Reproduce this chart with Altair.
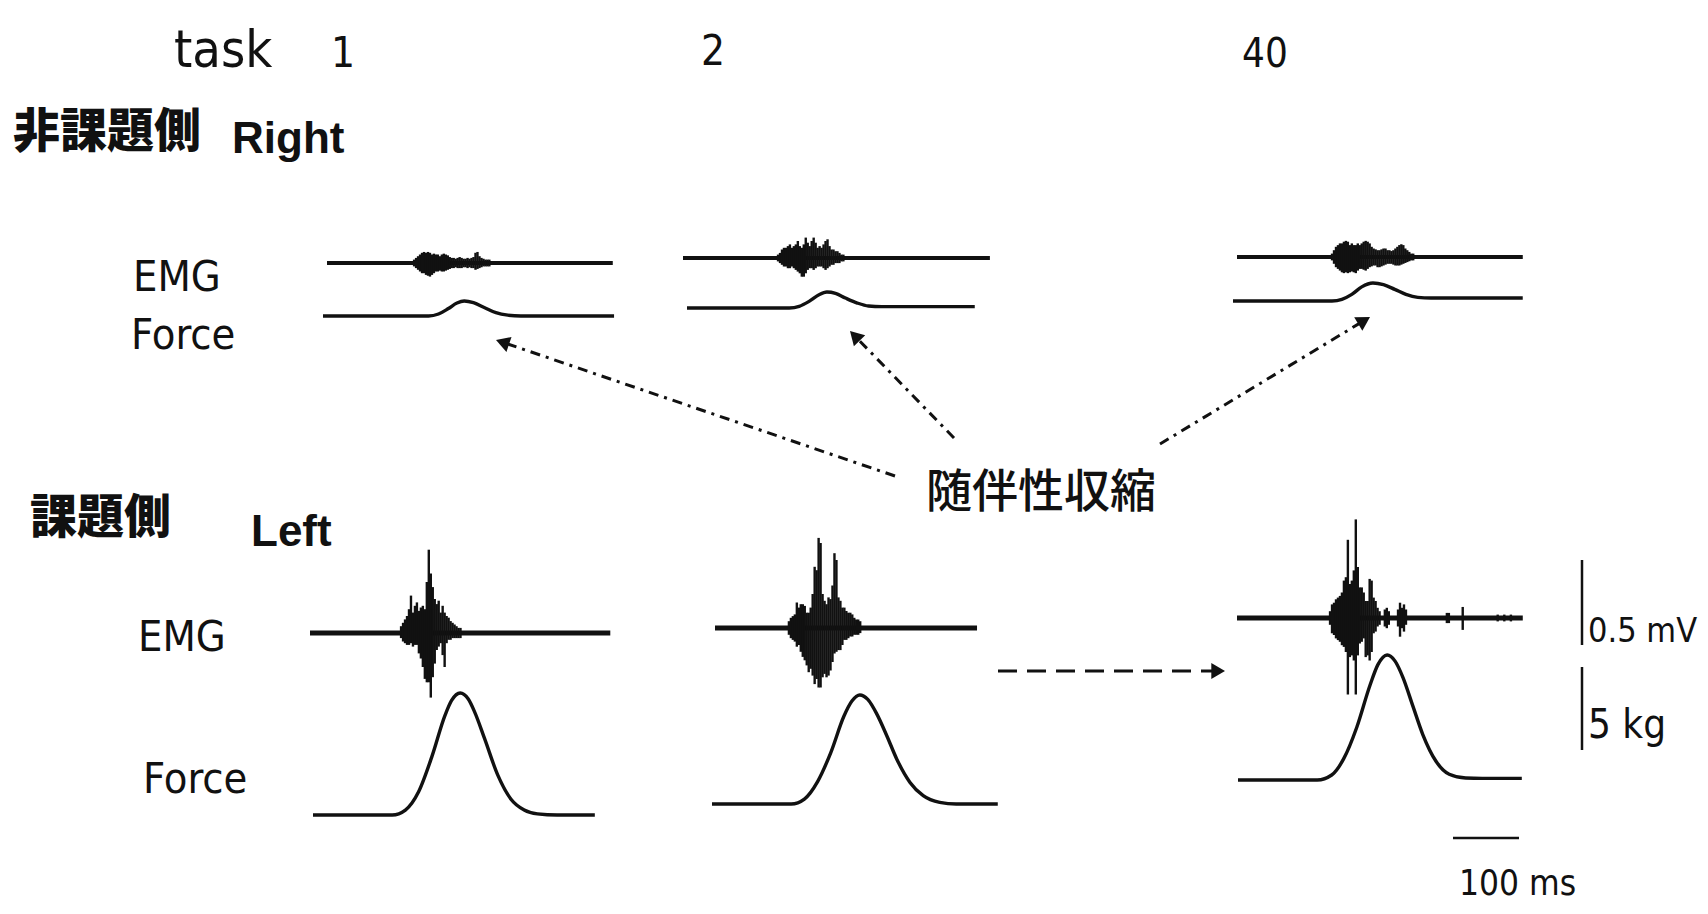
import math
import altair as alt
import pandas as pd

# ============ values ============
task_labels = ["1", "2", "40"]
side_labels_jp = ["非課題側", "課題側"]
side_labels_en = ["Right", "Left"]
signal_labels = ["EMG", "Force"]
annotation_label = "随伴性収縮"
scale_labels = ["0.5 mV", "5 kg", "100 ms"]
scale_values = [0.5, 5.0, 100.0]  # mV, kg, ms
header_label = "task"

# ---- Force traces (time in ms from trace start, force in kg) ----
force_R1_t = [0, 160, 175, 190, 203, 214, 228, 245, 262, 280, 300, 441]
force_R1_kg = [0, 0, 0.12, 0.45, 0.78, 0.9, 0.8, 0.5, 0.2, 0.05, 0, 0]
force_R2_t = [0, 155, 170, 185, 200, 212, 225, 240, 258, 275, 295, 436]
force_R2_kg = [0, 0, 0.1, 0.4, 0.8, 0.96, 0.88, 0.6, 0.3, 0.12, 0.08, 0.08]
force_R40_t = [0, 150, 165, 180, 195, 212, 228, 245, 262, 280, 300, 439]
force_R40_kg = [0, 0, 0.1, 0.4, 0.85, 1.08, 0.98, 0.7, 0.4, 0.22, 0.18, 0.18]
force_L1_t = [0, 120, 140, 160, 180, 200, 210, 223, 235, 245, 260, 280, 300, 320, 340, 370, 427]
force_L1_kg = [0, 0, 0.3, 1.4, 3.5, 6.0, 6.9, 7.35, 7.0, 6.2, 4.6, 2.4, 0.95, 0.3, 0.07, 0, 0]
force_L2_t = [0, 120, 140, 160, 180, 200, 212, 224, 236, 250, 265, 280, 300, 320, 345, 370, 433]
force_L2_kg = [0, 0, 0.3, 1.35, 3.1, 5.3, 6.2, 6.57, 6.3, 5.4, 4.1, 2.7, 1.3, 0.5, 0.1, 0, 0]
force_L40_t = [0, 120, 142, 160, 180, 200, 212, 226, 238, 250, 265, 280, 300, 320, 345, 370, 430]
force_L40_kg = [0, 0, 0.3, 1.27, 3.18, 5.71, 6.95, 7.53, 7.16, 6.17, 4.45, 2.74, 1.13, 0.35, 0.12, 0.1, 0.1]

# ---- EMG traces: record length (ms) and burst envelope (ms, +mV, -mV) ----
emg_duration = {"R1": 433, "R2": 465, "R40": 433, "L1": 455, "L2": 397, "L40": 433}

emg_R1_t = [132, 135, 138, 141, 144, 147, 150, 153, 156, 159, 162, 165, 168, 171, 174, 177, 180, 183, 186,
            189, 192, 195, 198, 201, 204, 207, 210, 213, 216, 219, 222, 225, 228, 231, 234, 237, 240, 243, 246]
emg_R1_hi = [0.02, 0.03, 0.04, 0.05, 0.06, 0.065, 0.06, 0.065, 0.06, 0.05, 0.055, 0.05, 0.05, 0.04, 0.05,
             0.055, 0.05, 0.045, 0.035, 0.03, 0.03, 0.025, 0.03, 0.035, 0.03, 0.025, 0.025, 0.03, 0.025, 0.03,
             0.035, 0.06, 0.065, 0.04, 0.03, 0.025, 0.02, 0.02, 0.02]
emg_R1_lo = [-0.02, -0.03, -0.04, -0.05, -0.06, -0.06, -0.07, -0.075, -0.08, -0.07, -0.06, -0.05, -0.05,
             -0.045, -0.05, -0.05, -0.045, -0.04, -0.035, -0.03, -0.03, -0.025, -0.03, -0.03, -0.03, -0.025,
             -0.025, -0.03, -0.025, -0.03, -0.03, -0.04, -0.035, -0.03, -0.025, -0.02, -0.02, -0.02, -0.02]

emg_R2_t = [144, 147, 150, 153, 156, 159, 162, 165, 168, 171, 174, 177, 180, 183, 186, 189, 192, 195, 198,
            201, 204, 207, 210, 213, 216, 219, 222, 225, 228, 231, 234, 237, 240, 243]
emg_R2_hi = [0.02, 0.03, 0.05, 0.06, 0.06, 0.07, 0.08, 0.06, 0.07, 0.08, 0.10, 0.07, 0.06, 0.08, 0.12,
             0.09, 0.07, 0.10, 0.12, 0.09, 0.06, 0.07, 0.06, 0.08, 0.10, 0.11, 0.07, 0.05, 0.05, 0.04,
             0.04, 0.03, 0.02, 0.02]
emg_R2_lo = [-0.02, -0.03, -0.04, -0.05, -0.05, -0.06, -0.06, -0.05, -0.06, -0.07, -0.08, -0.09, -0.11,
             -0.11, -0.09, -0.07, -0.06, -0.06, -0.07, -0.06, -0.05, -0.05, -0.05, -0.06, -0.07, -0.06,
             -0.05, -0.04, -0.04, -0.03, -0.03, -0.03, -0.02, -0.02]

emg_R40_t = [144, 147, 150, 153, 156, 159, 162, 165, 168, 171, 174, 177, 180, 183, 186, 189, 192, 195, 198,
             201, 204, 207, 210, 213, 216, 219, 222, 225, 228, 231, 234, 237, 240, 243, 246, 249, 252, 255,
             258, 261, 264, 267]
emg_R40_hi = [0.02, 0.04, 0.06, 0.07, 0.08, 0.08, 0.09, 0.095, 0.09, 0.07, 0.08, 0.07, 0.07, 0.08, 0.07,
              0.08, 0.09, 0.095, 0.09, 0.08, 0.06, 0.05, 0.045, 0.04, 0.04, 0.045, 0.05, 0.05, 0.04, 0.04,
              0.035, 0.04, 0.05, 0.06, 0.07, 0.075, 0.07, 0.05, 0.04, 0.03, 0.02, 0.02]
emg_R40_lo = [-0.02, -0.04, -0.06, -0.07, -0.08, -0.09, -0.095, -0.09, -0.095, -0.09, -0.085, -0.09, -0.095,
              -0.08, -0.07, -0.07, -0.075, -0.08, -0.07, -0.06, -0.055, -0.05, -0.05, -0.06, -0.06, -0.055,
              -0.05, -0.045, -0.04, -0.04, -0.04, -0.045, -0.05, -0.05, -0.05, -0.045, -0.04, -0.035, -0.03,
              -0.025, -0.02, -0.02]

emg_L1_t = [138, 141, 144, 147, 150, 153, 156, 159, 162, 165, 168, 171, 174, 177, 180, 183, 186, 189, 192,
            195, 198, 201, 204, 207, 210, 213, 216, 219, 222, 225, 228]
emg_L1_hi = [0.04, 0.06, 0.08, 0.10, 0.14, 0.22, 0.12, 0.16, 0.18, 0.13, 0.15, 0.16, 0.14, 0.30, 0.49,
             0.35, 0.27, 0.20, 0.17, 0.19, 0.12, 0.16, 0.12, 0.10, 0.09, 0.07, 0.06, 0.05, 0.04, 0.03, 0.03]
emg_L1_lo = [-0.03, -0.05, -0.06, -0.07, -0.07, -0.06, -0.08, -0.07, -0.07, -0.12, -0.15, -0.20, -0.27,
             -0.29, -0.29, -0.38, -0.26, -0.18, -0.10, -0.08, -0.06, -0.13, -0.20, -0.06, -0.04, -0.04,
             -0.03, -0.03, -0.03, -0.03, -0.03]

emg_L2_t = [112, 115, 118, 121, 124, 127, 130, 133, 136, 139, 142, 145, 148, 151, 154, 157, 160, 163, 166,
            169, 172, 175, 178, 181, 184, 187, 190, 193, 196, 199, 202, 205, 208, 211, 214, 217, 220]
emg_L2_hi = [0.04, 0.06, 0.07, 0.08, 0.15, 0.12, 0.14, 0.14, 0.13, 0.09, 0.09, 0.12, 0.20, 0.36, 0.34,
             0.53, 0.50, 0.20, 0.16, 0.14, 0.18, 0.17, 0.25, 0.44, 0.40, 0.18, 0.16, 0.12, 0.12, 0.10,
             0.09, 0.09, 0.08, 0.06, 0.05, 0.05, 0.04]
emg_L2_lo = [-0.04, -0.06, -0.07, -0.08, -0.11, -0.10, -0.14, -0.17, -0.19, -0.22, -0.26, -0.24, -0.28,
             -0.33, -0.30, -0.35, -0.35, -0.29, -0.27, -0.29, -0.28, -0.25, -0.20, -0.15, -0.14, -0.13,
             -0.13, -0.10, -0.07, -0.07, -0.06, -0.05, -0.05, -0.04, -0.04, -0.04, -0.03]

emg_L40_t = [141, 144, 147, 150, 153, 156, 159, 162, 165, 168, 171, 174, 177, 180, 183, 186, 189, 192, 195,
             198, 201, 204, 207, 210, 213, 216, 224, 227, 230, 244, 247, 250, 253, 256, 318, 321, 342, 395,
             405, 415]
emg_L40_hi = [0.04, 0.08, 0.09, 0.11, 0.12, 0.13, 0.15, 0.22, 0.24, 0.46, 0.20, 0.22, 0.28, 0.58, 0.30,
              0.18, 0.18, 0.15, 0.10, 0.10, 0.23, 0.22, 0.12, 0.10, 0.06, 0.04, 0.05, 0.06, 0.04, 0.05,
              0.09, 0.06, 0.08, 0.05, 0.03, 0.03, 0.065, 0.02, 0.02, 0.02]
emg_L40_lo = [-0.04, -0.09, -0.10, -0.12, -0.13, -0.14, -0.16, -0.17, -0.20, -0.45, -0.23, -0.22, -0.25,
              -0.45, -0.22, -0.15, -0.14, -0.12, -0.23, -0.22, -0.25, -0.20, -0.09, -0.08, -0.05, -0.04,
              -0.05, -0.06, -0.04, -0.05, -0.11, -0.06, -0.08, -0.04, -0.03, -0.03, -0.07, -0.02, -0.02,
              -0.02]

# ============ layout (page pixels) ============
PAGE_W, PAGE_H, MARGIN = 1708, 914, 8
W, H = PAGE_W - 2 * MARGIN, PAGE_H - 2 * MARGIN
PX_PER_MS = 0.66
PX_PER_MV = 170.0
PX_PER_KG = 16.6

force_place = {"R1": (323, 316), "R2": (687, 308), "R40": (1233, 301),
               "L1": (313, 815), "L2": (712, 804), "L40": (1238, 780)}
emg_place = {"R1": (327, 263), "R2": (683, 258), "R40": (1237, 257),
             "L1": (310, 633), "L2": (715, 628), "L40": (1237, 618)}
emg_width = {"R": 4.0, "L": 5.0}

force_data = {"R1": (force_R1_t, force_R1_kg), "R2": (force_R2_t, force_R2_kg),
              "R40": (force_R40_t, force_R40_kg), "L1": (force_L1_t, force_L1_kg),
              "L2": (force_L2_t, force_L2_kg), "L40": (force_L40_t, force_L40_kg)}
emg_data = {"R1": (emg_R1_t, emg_R1_hi, emg_R1_lo), "R2": (emg_R2_t, emg_R2_hi, emg_R2_lo),
            "R40": (emg_R40_t, emg_R40_hi, emg_R40_lo), "L1": (emg_L1_t, emg_L1_hi, emg_L1_lo),
            "L2": (emg_L2_t, emg_L2_hi, emg_L2_lo), "L40": (emg_L40_t, emg_L40_hi, emg_L40_lo)}

# ---- build tables ----
force_rows = []
for key, (ts, ks) in force_data.items():
    x0, b = force_place[key]
    for t, k in zip(ts, ks):
        force_rows.append({"trace": key, "x": x0 + t * PX_PER_MS, "y": b - k * PX_PER_KG})
force_df = pd.DataFrame(force_rows)

base_rows, burst_rows = [], []
for key, (ts, his, los) in emg_data.items():
    x0, b = emg_place[key]
    w = emg_width[key[0]]
    for t in (0, emg_duration[key]):
        base_rows.append({"trace": key, "x": x0 + t * PX_PER_MS, "y": b, "w": w})
    for t, hi, lo in zip(ts, his, los):
        burst_rows.append({"x": x0 + t * PX_PER_MS, "y": b - hi * PX_PER_MV, "y2": b - lo * PX_PER_MV})
base_df = pd.DataFrame(base_rows)
burst_df = pd.DataFrame(burst_rows)

# scale bars
mv_bar = {"x": 1582, "y": 645}
kg_bar = {"x": 1582, "y": 750}
ms_bar = {"x": 1453, "y": 838}
vbar_df = pd.DataFrame([
    {"x": mv_bar["x"], "y": mv_bar["y"], "y2": mv_bar["y"] - scale_values[0] * PX_PER_MV},
    {"x": kg_bar["x"], "y": kg_bar["y"], "y2": kg_bar["y"] - scale_values[1] * PX_PER_KG},
])
hbar_df = pd.DataFrame([{"x": ms_bar["x"], "x2": ms_bar["x"] + scale_values[2] * PX_PER_MS, "y": ms_bar["y"]}])

# arrows
HEAD_SIZE = 250
head_h = math.sqrt(3) / 2 * math.sqrt(HEAD_SIZE)
arrow_geom = [("a1", (895, 476), (496, 340), "dashdot"),
              ("a2", (954, 438), (850, 331), "dashdot"),
              ("a3", (1160, 444), (1370, 317), "dashdot"),
              ("a4", (998, 671), (1225, 671), "dash")]
arrow_line_rows, head_rows = [], []
for aid, (tx, ty), (hx, hy), style in arrow_geom:
    dx, dy = hx - tx, hy - ty
    L = math.hypot(dx, dy)
    ux, uy = dx / L, dy / L
    ex, ey = hx - ux * head_h * 0.9, hy - uy * head_h * 0.9
    arrow_line_rows.append({"id": aid, "style": style, "i": 0, "x": tx, "y": ty})
    arrow_line_rows.append({"id": aid, "style": style, "i": 1, "x": ex, "y": ey})
    cx, cy = hx - ux * head_h / 2, hy - uy * head_h / 2
    ang = math.degrees(math.atan2(dx, -dy)) % 360
    head_rows.append({"x": cx, "y": cy, "angle": ang})
arrow_df = pd.DataFrame(arrow_line_rows)
head_df = pd.DataFrame(head_rows)

# texts
LATIN = "DejaVu Sans Condensed"
LATIN_BOLD = "Liberation Sans"
CJK = "Noto Sans CJK JP"
text_regular = pd.DataFrame([
    {"t": header_label, "x": 174, "y": 67, "fs": 52},
    {"t": signal_labels[0], "x": 133, "y": 291, "fs": 43},
    {"t": signal_labels[1], "x": 131, "y": 349, "fs": 43},
    {"t": signal_labels[0], "x": 138, "y": 651, "fs": 43},
    {"t": signal_labels[1], "x": 143, "y": 793, "fs": 43},
    {"t": scale_labels[0], "x": 1588, "y": 642, "fs": 34},
    {"t": scale_labels[1], "x": 1588, "y": 738, "fs": 40},
    {"t": scale_labels[2], "x": 1459, "y": 895, "fs": 35},
])
text_numbers = pd.DataFrame([
    {"t": task_labels[0], "x": 343, "y": 67, "fs": 42},
    {"t": task_labels[1], "x": 713, "y": 65, "fs": 42},
    {"t": task_labels[2], "x": 1265, "y": 67, "fs": 40},
])
text_jp_bold = pd.DataFrame([
    {"t": side_labels_jp[0], "x": 13, "y": 133, "fs": 47},
    {"t": side_labels_jp[1], "x": 30, "y": 519, "fs": 47},
])
text_en_bold = pd.DataFrame([
    {"t": side_labels_en[0], "x": 232, "y": 153, "fs": 44},
    {"t": side_labels_en[1], "x": 251, "y": 546, "fs": 44},
])
text_anno = pd.DataFrame([{"t": annotation_label, "x": 926, "y": 493, "fs": 46}])

# ============ chart ============
xs = alt.Scale(domain=[MARGIN, PAGE_W - MARGIN], nice=False, zero=False)
ys = alt.Scale(domain=[MARGIN, PAGE_H - MARGIN], nice=False, zero=False, reverse=True)
X = alt.X("x:Q", scale=xs, axis=None)
Y = alt.Y("y:Q", scale=ys, axis=None)
INK = "#111111"

force_layer = alt.Chart(force_df).mark_line(color=INK, strokeWidth=3.4, interpolate="monotone").encode(
    x=X, y=Y, detail="trace:N")
base_layer = alt.Chart(base_df).mark_line(color=INK).encode(
    x=X, y=Y, detail="trace:N", size=alt.Size("w:Q", scale=None))
burst_layer = alt.Chart(burst_df).mark_rule(color=INK, strokeWidth=2.4).encode(x=X, y=Y, y2="y2:Q")

dashdot_layer = alt.Chart(arrow_df[arrow_df["style"] == "dashdot"]).mark_line(
    color=INK, strokeWidth=3, strokeDash=[10, 6, 3, 6]).encode(x=X, y=Y, detail="id:N", order="i:Q")
dash_layer = alt.Chart(arrow_df[arrow_df["style"] == "dash"]).mark_line(
    color=INK, strokeWidth=3, strokeDash=[19, 10]).encode(x=X, y=Y, detail="id:N", order="i:Q")
head_layer = alt.Chart(head_df).mark_point(
    shape="triangle-up", filled=True, size=HEAD_SIZE, color=INK, opacity=1).encode(
    x=X, y=Y, angle=alt.Angle("angle:Q", scale=None))

vbar_layer = alt.Chart(vbar_df).mark_rule(color=INK, strokeWidth=2.5).encode(x=X, y=Y, y2="y2:Q")
hbar_layer = alt.Chart(hbar_df).mark_rule(color=INK, strokeWidth=2.5).encode(x=X, x2="x2:Q", y=Y)


def text_layer(df, font, weight="normal", align="left", baseline="alphabetic"):
    return alt.Chart(df).mark_text(font=font, fontWeight=weight, align=align, baseline=baseline,
                                   color=INK).encode(x=X, y=Y, text="t:N", size=alt.Size("fs:Q", scale=None))


t1 = text_layer(text_regular, LATIN)
t2 = text_layer(text_numbers, LATIN, align="center")
t3 = text_layer(text_jp_bold, CJK, weight=900, baseline="middle")
t4 = text_layer(text_en_bold, LATIN_BOLD, weight="bold")
t5 = text_layer(text_anno, CJK, weight=500, baseline="middle")

chart = alt.layer(
    force_layer, base_layer, burst_layer, dashdot_layer, dash_layer, head_layer,
    vbar_layer, hbar_layer, t1, t2, t3, t4, t5
).properties(
    width=W, height=H, padding=0, background="white",
    autosize=alt.AutoSizeParams(type="none"),
).configure_view(stroke=None)

chart.save("out.html", embed_options={"renderer": "svg", "actions": False})
